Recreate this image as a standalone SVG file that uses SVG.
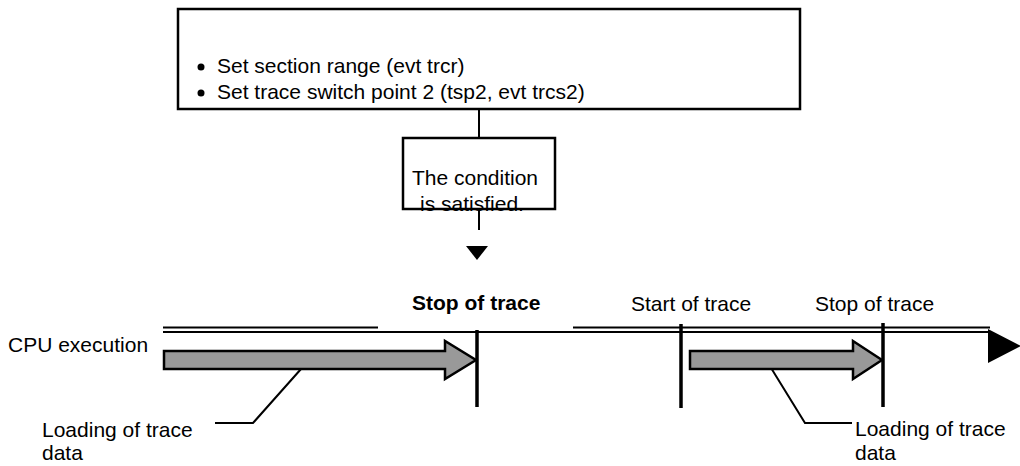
<svg xmlns="http://www.w3.org/2000/svg" width="1020" height="466" viewBox="0 0 1020 466">
<style>
  .t { font-family: "Liberation Sans", Arial, sans-serif; font-size: 21px; fill: #000; }
  .b { font-weight: bold; }
  .box { fill: #fff; stroke: #000; stroke-width: 2.5; }
  .ln { fill: none; stroke: #000; stroke-width: 2; }
  .tick { fill: none; stroke: #000; stroke-width: 3.5; }
  .garrow { fill: #999; stroke: #000; stroke-width: 2.5; stroke-linejoin: miter; }
</style>
<rect width="1020" height="466" fill="#fff"/>
<g id="connectors">
  <line class="ln" x1="479" y1="109" x2="479" y2="138"/>
  <line class="ln" x1="479" y1="209" x2="479" y2="230"/>
  <polygon points="466,246 488,246 477,260" fill="#000"/>
  <polyline class="ln" points="215,423 253,423 309,360"/>
  <polyline class="ln" points="768,363 805,423 852,423"/>
</g>
<g id="settings-box">
  <rect class="box" x="178" y="9" width="622" height="100"/>
  <circle cx="201" cy="67" r="3.5" fill="#000"/>
  <text class="t" x="217" y="73">Set section range (evt trcr)</text>
  <circle cx="201" cy="93" r="3.5" fill="#000"/>
  <text class="t" x="217" y="99">Set trace switch point 2 (tsp2, evt trcs2)</text>
</g>
<g id="condition-box">
  <rect class="box" x="403" y="138" width="152" height="71" stroke-width="2"/>
  <text class="t" x="475" y="185" text-anchor="middle">The condition</text>
  <text class="t" x="472" y="211" text-anchor="middle">is satisfied.</text>
</g>
<g id="timeline">
  <line class="ln" x1="163" y1="327.5" x2="378" y2="327.5"/>
  <line class="ln" x1="573" y1="327.5" x2="990" y2="327.5"/>
  <line class="ln" x1="163" y1="332" x2="990" y2="332"/>
  <polygon points="988,329 988,363 1021,346" fill="#000"/>
  <text class="t" x="8" y="352">CPU execution</text>
</g>
<g id="stop-1">
  <line class="tick" x1="477" y1="330" x2="477" y2="407"/>
  <text class="t b" x="412" y="310">Stop of trace</text>
</g>
<g id="start-2">
  <line class="tick" x1="681" y1="324" x2="681" y2="408"/>
  <text class="t" x="631" y="311">Start of trace</text>
</g>
<g id="stop-2">
  <line class="tick" x1="883" y1="323" x2="883" y2="407"/>
  <text class="t" x="815" y="311">Stop of trace</text>
</g>
<g id="load-1">
  <polygon class="garrow" points="164,351 445,351 445,341 476,360 445,379 445,369 164,369"/>
  <text class="t" x="42" y="437">Loading of trace</text>
  <text class="t" x="42" y="460">data</text>
</g>
<g id="load-2">
  <polygon class="garrow" points="690,351 853,351 853,341 882,360 853,379 853,369 690,369"/>
  <text class="t" x="855" y="436">Loading of trace</text>
  <text class="t" x="855" y="460">data</text>
</g>
</svg>
